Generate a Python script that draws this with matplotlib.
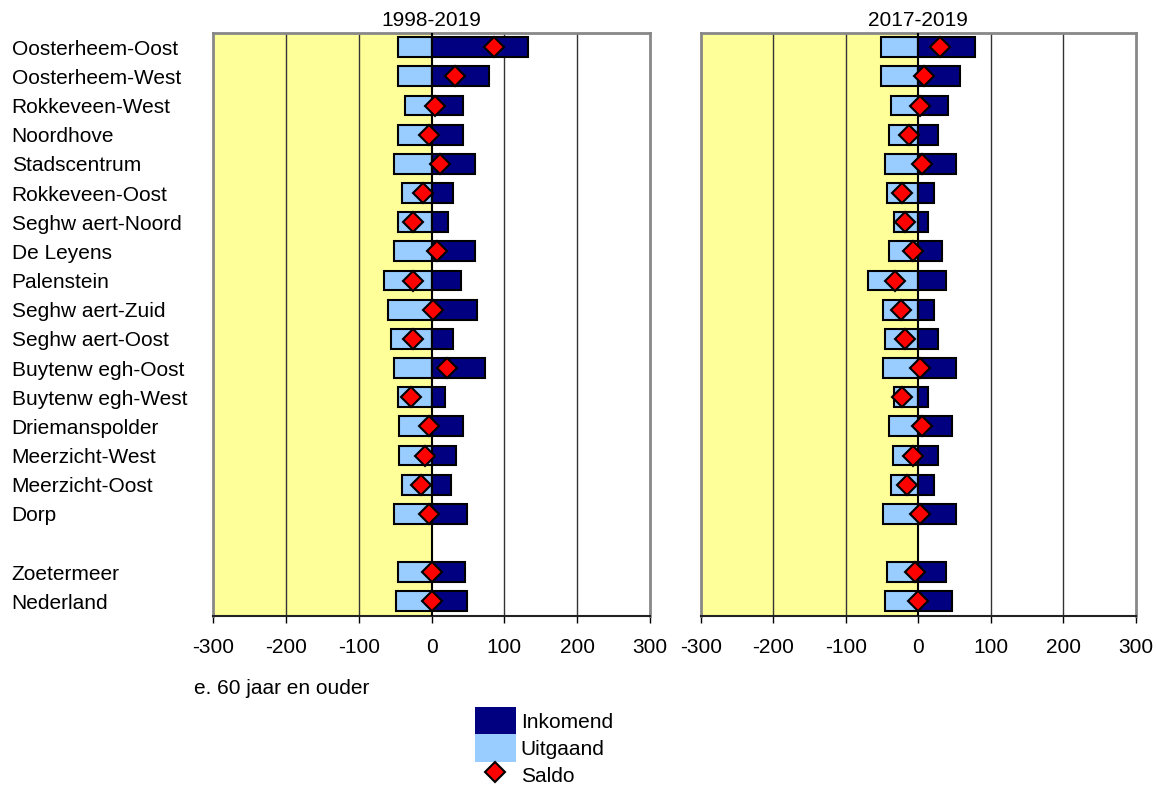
import numpy as np
import matplotlib.pyplot as plt
from matplotlib.patches import Patch
from matplotlib.lines import Line2D

plt.rcParams['font.family'] = ['Liberation Sans', 'DejaVu Sans']

wijken = ["Oosterheem-Oost", "Oosterheem-West", "Rokkeveen-West", "Noordhove",
          "Stadscentrum", "Rokkeveen-Oost", "Seghw aert-Noord", "De Leyens",
          "Palenstein", "Seghw aert-Zuid", "Seghw aert-Oost", "Buytenw egh-Oost",
          "Buytenw egh-West", "Driemanspolder", "Meerzicht-West", "Meerzicht-Oost",
          "Dorp", "", "Zoetermeer", "Nederland"]

# 1998-2019 (lege rij op plaats 17)
in_1998 = [133, 79, 43, 43, 60, 30, 22, 60, 41, 62, 30, 73, 19, 43, 33, 27, 49, np.nan, 46, 49]
uit_1998 = [-46, -46, -36, -46, -52, -41, -46, -52, -65, -60, -55, -52, -46, -44, -44, -41, -52, np.nan, -46, -49]
saldo_1998 = [86, 32, 5, -3, 11, -12, -25, 8, -25, 2, -25, 21, -28, -3, -9, -14, -3, np.nan, 0, 0]

# 2017-2019
in_2017 = [78, 57, 41, 27, 52, 22, 14, 33, 38, 22, 27, 52, 14, 46, 27, 22, 52, np.nan, 38, 46]
uit_2017 = [-51, -51, -38, -40, -46, -43, -33, -40, -70, -49, -46, -49, -33, -40, -35, -38, -49, np.nan, -43, -46]
saldo_2017 = [30, 8, 2, -13, 5, -22, -19, -8, -32, -24, -19, 2, -22, 5, -8, -16, 2, np.nan, -5, 0]

xticks = [-300, -200, -100, 0, 100, 200, 300]

donker = '#000080'
licht = '#99CCFF'
geel = '#FFFF99'

fig = plt.figure(figsize=(11.57, 7.89), dpi=100)
ax1 = fig.add_axes([0.1841, 0.2193, 0.3777, 0.7393])
ax2 = fig.add_axes([0.6056, 0.2193, 0.3762, 0.7393])

y = np.arange(len(wijken))
fs = 15

for ax, inn, uit, sal, titel in [(ax1, in_1998, uit_1998, saldo_1998, "1998-2019"),
                                 (ax2, in_2017, uit_2017, saldo_2017, "2017-2019")]:
    ax.axvspan(-300, 0, color=geel, zorder=0)
    for g in [-200, -100, 100, 200]:
        ax.axvline(g, color='#333333', lw=1, zorder=1)
    ax.barh(y, uit, height=0.68, color=licht, edgecolor='black', lw=1.5, zorder=2)
    ax.barh(y, inn, height=0.68, color=donker, edgecolor='black', lw=1.5, zorder=2)
    ax.axvline(0, color='black', lw=1.5, zorder=3)
    ax.plot(sal, y, ls='none', marker='D', ms=10, mfc='red', mec='black', mew=1.5, zorder=4)
    ax.set_xlim(-300, 300)
    ax.set_ylim(len(wijken) - 0.5, -0.5)
    ax.set_xticks(xticks)
    ax.set_xticklabels([str(t) for t in xticks], fontsize=fs)
    ax.tick_params(axis='x', direction='out', length=5, width=1, pad=11)
    ax.set_title(titel, fontsize=fs, pad=5)
    for s in ['top', 'left', 'right']:
        ax.spines[s].set_color('#888888')
        ax.spines[s].set_linewidth(2)
    ax.spines['bottom'].set_color('#222222')
    ax.spines['bottom'].set_linewidth(1.5)

ax1.set_yticks(y)
ax1.set_yticklabels(wijken, fontsize=fs)
ax1.tick_params(axis='y', length=0, pad=145)
for lbl in ax1.get_yticklabels():
    lbl.set_horizontalalignment('left')
ax2.set_yticks([])

fig.text(194 / 1157, 1 - 689 / 789, "e. 60 jaar en ouder", fontsize=fs, va='center')

handles = [Patch(facecolor=donker, edgecolor='none'),
           Patch(facecolor=licht, edgecolor='none'),
           Line2D([], [], ls='none', marker='D', ms=10, mfc='red', mec='black', mew=1.5)]
fig.legend(handles, ["Inkomend", "Uitgaand", "Saldo"], loc='upper left',
           bbox_to_anchor=(475 / 1157, 1 - 707 / 789), frameon=False, fontsize=fs,
           handlelength=1.95, handleheight=1.65, labelspacing=0, handletextpad=0.25,
           borderpad=0, borderaxespad=0)

fig.savefig('out.png', dpi=100)
